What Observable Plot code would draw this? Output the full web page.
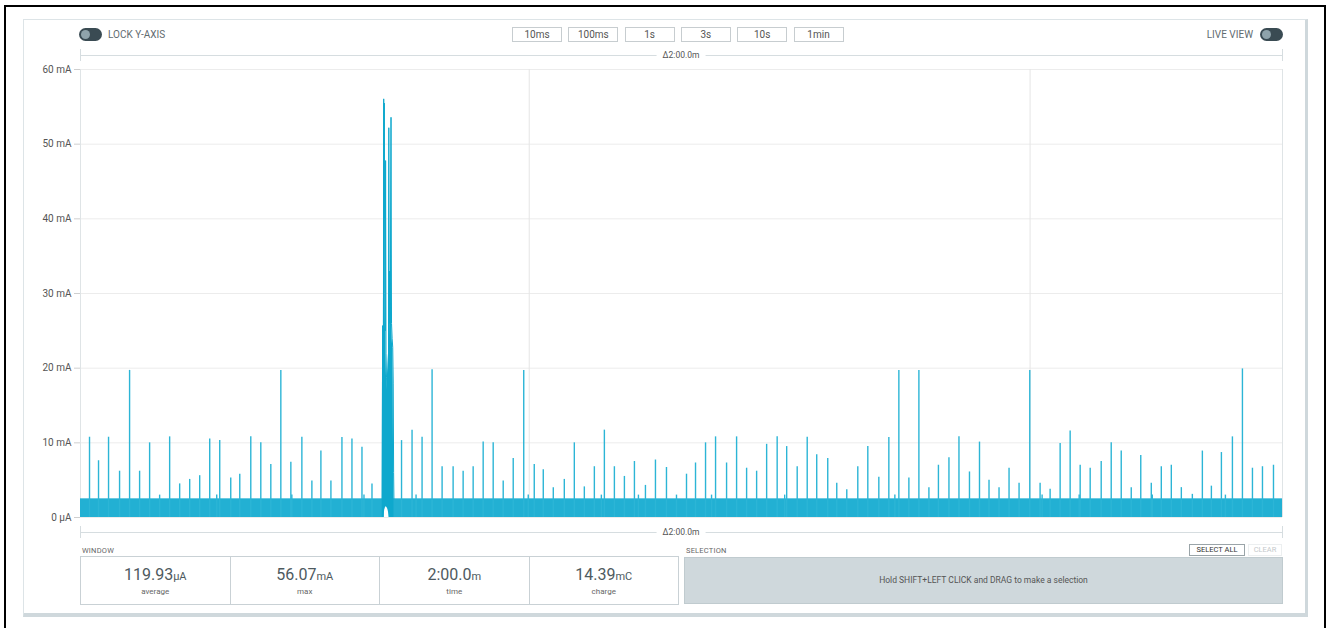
<!DOCTYPE html>
<html>
<head>
<meta charset="utf-8">
<script src="https://cdn.jsdelivr.net/npm/d3@7"></script>
<script src="https://cdn.jsdelivr.net/npm/@observablehq/plot@0.6"></script>
<style>
  html, body { margin: 0; padding: 0; background: #fff; }
  body { width: 1328px; height: 628px; position: relative; overflow: hidden; font-family: Roboto, "Noto Sans", sans-serif; color: #555; }
  .abs { position: absolute; box-sizing: border-box; }
  #frame { left: 4px; top: 5px; width: 1322px; height: 700px; border: 2px solid #000; }
  #card { left: 23px; top: 19px; width: 1285px; height: 598px; border-top: 1px solid #dde4e7; border-left: 1px solid #dde4e7; border-right: 3px solid #cfd8dc; border-bottom: 4px solid #cfd8dc; }
  #chart { left: 0; top: 0; }
  .toggle { width: 23px; height: 13px; border-radius: 7px; background: #3a4b53; }
  .toggle::after { content: ""; position: absolute; left: 2px; top: 2px; width: 9px; height: 9px; border-radius: 50%; background: #8fa3ab; }
  .lbl { font-size: 10px; color: #5f6b70; line-height: 13px; white-space: nowrap; }
  .btn { top: 27px; width: 50px; height: 15px; border: 1px solid #c7cdd0; font-size: 10px; color: #555; text-align: center; line-height: 13px; }
  .dline { height: 1px; background: #d6dde0; }
  .dtick { width: 1px; height: 12px; background: #d6dde0; }
  .dlabel { font-size: 8.5px; color: #555; background: #fff; padding: 0 6px; line-height: 10px; transform: translateX(-50%); white-space: nowrap; }
  .sect { font-size: 7.5px; color: #666; letter-spacing: 0.2px; line-height: 9px; }
  #stats { left: 80px; top: 556px; width: 599px; height: 49px; border: 1px solid #c9d1d5; display: flex; }
  .cell { flex: 1; border-right: 1px solid #c9d1d5; text-align: center; position: relative; }
  .cell:last-child { border-right: none; }
  .val { position: absolute; left: 0; right: 0; top: 9px; font-size: 16px; color: #4e5a60; line-height: 18px; }
  .val small { font-size: 11px; }
  .cap { position: absolute; left: 0; right: 0; top: 30px; font-size: 8px; color: #666; line-height: 10px; }
  #selbox { left: 684px; top: 557px; width: 599px; height: 47px; background: #cfd8dc; border: 1px solid #c0cbcf; font-size: 8.5px; color: #555; text-align: center; line-height: 45px; }
  .sbtn { top: 544px; height: 12px; font-size: 7.5px; line-height: 10px; text-align: center; }
  svg [aria-label="y-axis tick"] path { stroke: #cfcfcf; }
</style>
</head>
<body>
<div id="frame" class="abs"></div>
<div id="card" class="abs"></div>
<div id="chart" class="abs"></div>

<div class="abs toggle" style="left:79px;top:28px;"></div>
<div class="abs lbl" style="left:108px;top:28px;">LOCK Y-AXIS</div>
<div class="abs lbl" style="right:75px;top:28px;text-align:right;">LIVE VIEW</div>
<div class="abs toggle" style="left:1260px;top:28px;"></div>
<div id="buttons"></div>

<div class="abs dline" style="left:80px;top:55px;width:1202px;"></div>
<div class="abs dtick" style="left:80px;top:49px;"></div>
<div class="abs dtick" style="left:1282px;top:49px;"></div>
<div class="abs dlabel" style="left:681px;top:50px;">Δ2:00.0m</div>

<div class="abs dline" style="left:80px;top:532px;width:1202px;"></div>
<div class="abs dtick" style="left:80px;top:526px;"></div>
<div class="abs dtick" style="left:1282px;top:526px;"></div>
<div class="abs dlabel" style="left:681px;top:527px;">Δ2:00.0m</div>

<div class="abs sect" style="left:82px;top:546px;">WINDOW</div>
<div id="stats" class="abs"></div>

<div class="abs sect" style="left:686px;top:546px;">SELECTION</div>
<div class="abs sbtn" style="left:1189px;width:56px;border:1px solid #9aa4a8;color:#333;">SELECT ALL</div>
<div class="abs sbtn" style="left:1248px;width:34px;border:1px solid #eceff0;color:#c4c9cb;">CLEAR</div>
<div id="selbox" class="abs">Hold SHIFT+LEFT CLICK and DRAG to make a selection</div>

<script>
// ---- data (time in seconds, current in mA) ----
const timeDomain = [5.2, 125.2];
const timeGrid = [50, 100];
const yTicks = [0, 10, 20, 30, 40, 50, 60];
const yTickLabels = ["0 µA", "10 mA", "20 mA", "30 mA", "40 mA", "50 mA", "60 mA"];

const baseStart = [5.2, 36.02];
const baseEnd = [35.53, 125.2];
const baseLevel = 2.5;

const spikeTimes = [
  6.1, 7.0, 8.0, 9.1, 10.1, 11.1, 12.1, 13.1, 14.1, 15.1, 16.1, 17.1, 18.1, 18.8, 19.1, 20.2,
  21.1, 22.2, 23.2, 24.2, 25.2, 26.2, 26.3, 27.3, 28.3, 29.2, 30.2, 31.3, 32.3, 33.3, 33.5, 34.3,
  37.25, 38.3, 38.7, 39.3, 40.3, 41.3, 42.4, 43.4, 44.4, 45.4, 46.4, 47.4, 48.4, 49.45, 49.9,
  50.5, 51.4, 52.4, 53.5, 54.5, 55.5, 56.5, 57.2, 57.5, 58.5, 59.5, 60.5, 60.9, 61.6, 62.6, 63.7,
  64.7, 65.7, 66.6, 67.6, 68.2, 68.6, 69.7, 70.7, 71.7, 72.7, 73.7, 74.75, 75.5, 75.7, 76.75,
  77.75, 78.7, 79.8, 80.7, 81.7, 82.8, 83.8, 84.9, 85.9, 86.5, 86.9, 87.9, 88.9, 89.9, 90.85,
  91.9, 92.9, 93.95, 94.95, 95.9, 96.9, 97.9, 98.9, 99.97, 101.0, 101.2, 102.0, 103.0, 104.0,
  104.9, 105.0, 106.0, 107.1, 108.1, 109.1, 110.1, 111.05, 112.1, 112.2, 113.1, 114.1, 115.1,
  116.2, 117.2, 118.1, 119.1, 119.5, 120.2, 121.2, 122.2, 123.2, 124.3
];
const spikeValues = [
  10.75, 7.6, 10.75, 6.2, 19.7, 6.2, 10.0, 3.0, 10.8, 4.5, 5.1, 5.6, 10.5, 3.0, 10.3, 5.3,
  5.8, 10.8, 10.0, 7.1, 19.7, 7.4, 3.0, 10.75, 4.9, 8.9, 4.9, 10.7, 10.5, 9.4, 3.0, 4.5,
  10.3, 11.7, 3.0, 10.75, 19.8, 6.8, 6.8, 6.2, 6.8, 10.1, 10.0, 4.9, 7.9, 19.7, 3.0,
  7.1, 6.4, 4.0, 5.1, 10.0, 4.1, 6.8, 3.0, 11.7, 6.8, 5.5, 7.5, 3.0, 4.3, 7.7, 6.7,
  3.0, 5.8, 7.3, 10.0, 3.0, 10.8, 7.3, 10.8, 6.6, 6.2, 9.8, 10.8, 3.0, 9.5, 6.8,
  10.75, 8.4, 7.9, 4.6, 3.7, 6.8, 9.5, 5.4, 10.7, 3.0, 19.7, 5.3, 19.7, 4.0, 7.0,
  8.0, 10.8, 6.1, 10.1, 5.0, 4.0, 6.6, 4.6, 19.7, 4.6, 3.0, 3.8, 9.9, 11.6,
  3.0, 7.0, 6.6, 7.5, 10.0, 8.9, 4.0, 8.3, 4.6, 3.0, 6.8, 7.0, 4.0,
  3.1, 8.9, 4.2, 8.7, 3.0, 10.8, 19.9, 6.6, 6.8, 7.0
];

const burstTimes = [35.32, 35.36, 35.40, 35.44, 35.47, 35.50, 35.53, 35.57, 35.62, 35.66, 35.70,
                    35.75, 35.80, 35.85, 35.90, 35.95, 35.98, 36.02, 36.06, 36.10, 36.14, 36.20,
                    36.25, 36.31, 36.37, 36.42, 36.46, 36.49];
const burstHigh  = [2.5, 25.7, 24.0, 22.0, 56.07, 40.0, 55.5, 30.0, 25.0, 47.8, 22.0,
                    18.8, 17.0, 19.0, 20.0, 22.0, 52.2, 26.0, 33.0, 24.0, 28.0, 53.6,
                    26.0, 24.0, 22.8, 18.0, 6.0, 2.5];
const burstLow   = [0, 0, 0, 0, 0, 0, 0.5, 1.0, 1.2, 1.4, 1.4,
                    1.4, 1.3, 1.2, 1.0, 0.7, 0.4, 0, 0, 0, 0, 0,
                    0, 0, 0, 0, 0, 0];

const buttonLabels = ["10ms", "100ms", "1s", "3s", "10s", "1min"];
const statValues = ["119.93", "56.07", "2:00.0", "14.39"];
const statUnits = ["µA", "mA", "m", "mC"];
const statCaptions = ["average", "max", "time", "charge"];

// ---- build tables for the library ----
const baseRows = baseStart.map((s, i) => ({s, e: baseEnd[i], v: baseLevel}));
const spikes = spikeTimes.map((t, i) => ({t, v: spikeValues[i]}));
const burst = burstTimes.map((t, i) => ({t, hi: burstHigh[i], lo: burstLow[i]}));

const traceColor = "#22b0d3";
const spikeColor = "#2cb5d6";
const burstColor = "#0ea8cd";

const chart = Plot.plot({
  width: 1328,
  height: 545,
  marginLeft: 80,
  marginRight: 46,
  marginTop: 69,
  marginBottom: 28,
  style: {background: "transparent", fontFamily: "Roboto, sans-serif", fontSize: "10px", color: "#555", overflow: "visible"},
  x: {domain: timeDomain, axis: null},
  y: {domain: [0, 60], ticks: yTicks, tickFormat: d => yTickLabels[yTicks.indexOf(d)], tickSize: 6, tickPadding: 3, label: null},
  marks: [
    Plot.ruleY(yTicks, {stroke: "#ececec"}),
    Plot.ruleX(timeGrid, {y1: 0, y2: 60, stroke: "#e5e5e5"}),
    Plot.ruleX(timeDomain, {y1: 0, y2: 60, stroke: "#dfe4e6"}),
    Plot.rect(baseRows, {x1: "s", x2: "e", y1: 0, y2: "v", fill: traceColor}),
    Plot.ruleX(spikes, {x: "t", y1: 0, y2: "v", stroke: spikeColor, strokeWidth: 1.4}),
    Plot.area(burst, {x1: "t", y1: "lo", y2: "hi", fill: burstColor}),
    Plot.line(burst, {x: "t", y: "hi", stroke: burstColor, strokeWidth: 1})
  ]
});
document.getElementById("chart").appendChild(chart);

// buttons
const btnLefts0 = 512, btnStep = 56.3;
buttonLabels.forEach((b, i) => {
  const d = document.createElement("div");
  d.className = "abs btn";
  d.style.left = (btnLefts0 + i * btnStep) + "px";
  d.textContent = b;
  document.getElementById("buttons").appendChild(d);
});

// stats
const stats = document.getElementById("stats");
statValues.forEach((v, i) => {
  const c = document.createElement("div");
  c.className = "cell";
  c.innerHTML = `<div class="val">${v}<small>${statUnits[i]}</small></div><div class="cap">${statCaptions[i]}</div>`;
  stats.appendChild(c);
});
</script>
</body>
</html>
